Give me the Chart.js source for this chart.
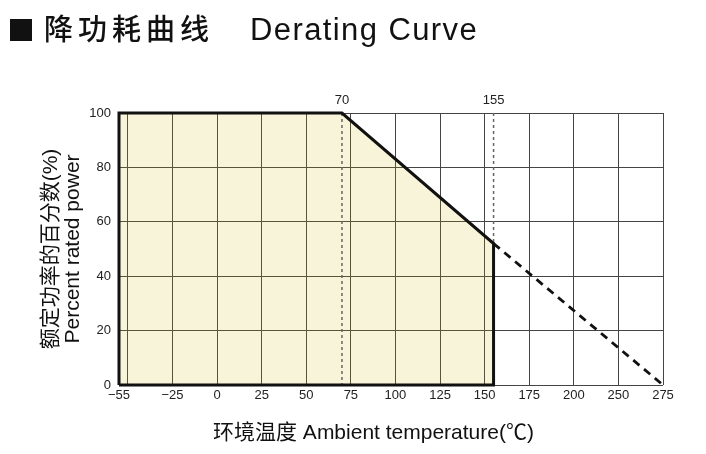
<!DOCTYPE html>
<html>
<head>
<meta charset="utf-8">
<script src="https://cdn.jsdelivr.net/npm/chart.js@4"></script>
<style>
  body { margin: 0; background: #fff; }
  #wrap { position: relative; width: 706px; height: 454px; }
  #heading { position: absolute; left: 10px; top: 6px; white-space: nowrap; color: #111; }
  #heading .box { display: inline-block; width: 22px; height: 22px; background: #111; vertical-align: -1px; margin-right: 12px; }
  #heading .cn { font-family: 'Noto Sans CJK SC', sans-serif; font-size: 29px; font-weight: 500; letter-spacing: 5px; }
  #heading .en { font-family: 'Liberation Sans', sans-serif; font-size: 31px; letter-spacing: 1.4px; margin-left: 36px; }
</style>
</head>
<body>
<div id="wrap">
  <canvas id="derating"></canvas>
  <div id="heading"><span class="box"></span><span class="cn">降功耗曲线</span><span class="en">Derating Curve</span></div>
</div>
<script>
// tick positions on the temperature scale and the labels printed under them
const xTickValues = [-55, -50, -25, 0, 25, 50, 75, 100, 125, 150, 175, 200, 225, 250];
const xTickLabels = ['−55', '', '−25', '0', '25', '50', '75', '100', '125', '150', '175', '200', '250', '275'];
const markerTemps = [70, 155];

// rated curve (solid) and its extension (dashed)
const curveTemps = [-55, 70, 155];
const curvePower = [100, 100, 52];
const extendTemps = [155, 250];
const extendPower = [52, 0];

const FONT = "'Liberation Sans', 'Noto Sans CJK SC', sans-serif";
const GRID = '#454545';

const curvePts = curveTemps.map((t, i) => ({ x: t, y: curvePower[i] }));
const outlinePts = [{ x: curveTemps[0], y: 0 }, ...curvePts,
  { x: curveTemps[curveTemps.length - 1], y: 0 }, { x: curveTemps[0], y: 0 }];
const extendPts = extendTemps.map((t, i) => ({ x: t, y: extendPower[i] }));

// dotted guides at the marker temperatures, from 100% down to the curve / axis
const guideSets = markerTemps.map(t => {
  const i = curveTemps.indexOf(t);
  const low = t === curveTemps[curveTemps.length - 1] ? curvePower[i] : 0;
  return {
    data: [{ x: t, y: 100 }, { x: t, y: low }],
    borderColor: '#666',
    borderWidth: 1.5,
    borderDash: [3, 3],
    pointRadius: 0,
    fill: false,
    order: 2
  };
});

const chart = new Chart(document.getElementById('derating'), {
  type: 'line',
  data: {
    datasets: [
      {
        // translucent so the grid underneath stays visible
        data: curvePts,
        borderWidth: 0,
        borderColor: 'rgba(0,0,0,0)',
        backgroundColor: 'rgba(208,182,8,0.15)',
        fill: 'origin',
        pointRadius: 0,
        order: 10
      },
      ...guideSets,
      {
        data: outlinePts,
        borderColor: '#111',
        borderWidth: 3,
        pointRadius: 0,
        fill: false,
        clip: false,
        order: 0
      },
      {
        data: extendPts,
        borderColor: '#111',
        borderWidth: 2.8,
        borderDash: [8, 6],
        pointRadius: 0,
        fill: false,
        clip: false,
        order: 0
      }
    ]
  },
  options: {
    responsive: true,
    maintainAspectRatio: false,
    animation: false,
    layout: { padding: { left: 0, right: 43, top: 0, bottom: 0 } },
    plugins: {
      legend: { display: false },
      tooltip: { enabled: false }
    },
    scales: {
      x: {
        type: 'linear',
        position: 'bottom',
        min: -55,
        max: 250,
        afterBuildTicks: axis => { axis.ticks = xTickValues.map(v => ({ value: v })); },
        afterFit: axis => { axis.height = 69; },
        ticks: {
          autoSkip: false,
          maxRotation: 0,
          padding: 3,
          color: '#222',
          font: { family: FONT, size: 13 },
          callback: (value, index) => xTickLabels[index]
        },
        grid: { color: GRID, lineWidth: 1, drawTicks: false },
        border: { display: false },
        title: {
          display: true,
          text: '环境温度 Ambient temperature(℃)\u00a0\u00a0\u00a0\u00a0\u00a0\u00a0',
          color: '#111',
          font: { family: FONT, size: 21 },
          padding: { top: 0, bottom: 8 }
        }
      },
      x2: {
        type: 'linear',
        position: 'top',
        min: -55,
        max: 250,
        afterBuildTicks: axis => { axis.ticks = markerTemps.map(v => ({ value: v })); },
        afterFit: axis => { axis.height = 113; },
        ticks: {
          autoSkip: false,
          maxRotation: 0,
          padding: 5,
          color: '#222',
          font: { family: FONT, size: 13 }
        },
        grid: { display: false, drawTicks: false },
        border: { display: false }
      },
      y: {
        min: 0,
        max: 100,
        afterFit: axis => { axis.width = 119; },
        ticks: {
          stepSize: 20,
          padding: 8,
          color: '#222',
          font: { family: FONT, size: 13 }
        },
        grid: { color: GRID, lineWidth: 1, drawTicks: false },
        border: { display: false },
        title: {
          display: true,
          text: ['额定功率的百分数(%)', 'Percent rated power'],
          color: '#111',
          font: { family: FONT, size: 21, lineHeight: 1.05 },
          padding: { top: 40, bottom: 0 }
        }
      }
    }
  }
});
</script>
</body>
</html>
